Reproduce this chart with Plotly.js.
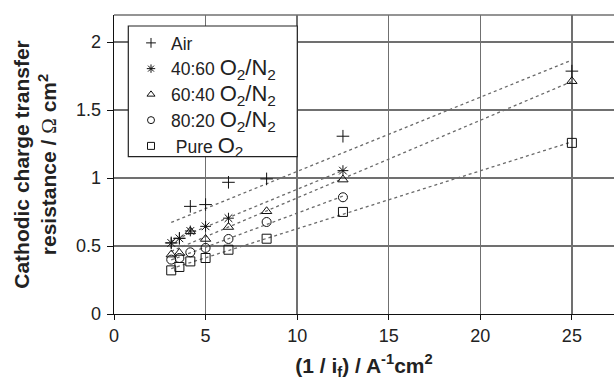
<!DOCTYPE html>
<html>
<head>
<meta charset="utf-8">
<script src="https://cdn.plot.ly/plotly-3.0.1.min.js"></script>
<style>html,body{margin:0;padding:0;background:#fff;}#chart{width:614px;height:380px;}</style>
</head>
<body>
<div id="chart"></div>
<script>
// Data
const xAir = [3.125, 3.571, 4.167, 5, 6.25, 8.333, 12.5, 25];
const yAir = [0.523, 0.557, 0.792, 0.805, 0.969, 0.994, 1.308, 1.787];

const x4060 = [3.125, 3.571, 4.167, 5, 6.25, 12.5];
const y4060 = [0.523, 0.557, 0.611, 0.645, 0.705, 1.055];

const x6040 = [3.125, 3.571, 4.167, 5, 6.25, 8.333, 12.5, 25];
const y6040 = [0.437, 0.449, 0.608, 0.552, 0.640, 0.756, 0.989, 1.713];

const x8020 = [3.125, 3.571, 4.167, 5, 6.25, 8.333, 12.5];
const y8020 = [0.400, 0.412, 0.454, 0.486, 0.552, 0.677, 0.859];

const xO2 = [3.125, 3.571, 4.167, 5, 6.25, 8.333, 12.5, 25];
const yO2 = [0.321, 0.346, 0.387, 0.412, 0.473, 0.554, 0.751, 1.259];

const seriesNames = [
  'Air',
  '40:60 <span style="font-size:22px">O<sub>2</sub>/N<sub>2</sub></span>',
  '60:40 <span style="font-size:22px">O<sub>2</sub>/N<sub>2</sub></span>',
  '80:20 <span style="font-size:22px">O<sub>2</sub>/N<sub>2</sub></span>',
  ' Pure <span style="font-size:22px">O<sub>2</sub></span>'
];
const seriesSymbols = ['cross-thin-open', 'asterisk-open', 'triangle-up-open', 'circle-open', 'square-open'];
const seriesX = [xAir, x4060, x6040, x8020, xO2];
const seriesY = [yAir, y4060, y6040, y8020, yO2];

const xTicks = [0, 5, 10, 15, 20, 25];
const yTicks = [0, 0.5, 1, 1.5, 2];

function linfit(xs, ys) {
  const n = xs.length;
  const mx = xs.reduce((a, b) => a + b, 0) / n;
  const my = ys.reduce((a, b) => a + b, 0) / n;
  let sxy = 0, sxx = 0;
  for (let i = 0; i < n; i++) { sxy += (xs[i] - mx) * (ys[i] - my); sxx += (xs[i] - mx) * (xs[i] - mx); }
  const m = sxy / sxx;
  const b = my - m * mx;
  const x0 = Math.min(...xs), x1 = Math.max(...xs);
  return {x: [x0, x1], y: [m * x0 + b, m * x1 + b]};
}

const traces = [];
// dotted least-squares trend lines
seriesX.forEach((xs, i) => {
  const f = linfit(xs, seriesY[i]);
  traces.push({
    x: f.x, y: f.y, type: 'scatter', mode: 'lines', showlegend: false, hoverinfo: 'skip',
    line: {color: '#6a6a6a', width: 1.3, dash: 'dot'}
  });
});
// data markers
seriesX.forEach((xs, i) => {
  traces.push({
    x: xs, y: seriesY[i], type: 'scatter', mode: 'markers', name: seriesNames[i], showlegend: false,
    marker: {symbol: seriesSymbols[i], size: 9, color: '#111', line: {color: '#111', width: 1}}
  });
});
// legend entries (smaller symbols, as in the reference legend)
seriesNames.forEach((nm, i) => {
  traces.push({
    x: [null], y: [null], type: 'scatter', mode: 'markers', name: nm, showlegend: true,
    marker: {symbol: seriesSymbols[i], size: 7, color: '#111', line: {color: '#111', width: 1}}
  });
});

const FONT = '"Liberation Sans", Arial, Helvetica, sans-serif';
const layout = {
  width: 614, height: 380,
  margin: {l: 114, r: 0, t: 15, b: 66, pad: 0},
  paper_bgcolor: '#fff', plot_bgcolor: '#fff',
  font: {family: FONT, size: 18, color: '#222'},
  showlegend: true,
  legend: {
    x: (131 - 114) / 500, y: (314 - 25) / 299, xanchor: 'left', yanchor: 'top',
    bgcolor: 'rgba(0,0,0,0)', borderwidth: 0,
    font: {family: FONT, size: 17.5, color: '#222'},
    tracegroupgap: 0
  },
  xaxis: {
    range: [0, 27.3], tickvals: xTicks, ticktext: xTicks.map(String),
    showgrid: true, gridcolor: '#707070', gridwidth: 1.4,
    showline: true, linecolor: '#111', linewidth: 1.3,
    ticks: 'outside', ticklen: 5, tickcolor: '#111', zeroline: false,
    tickfont: {size: 18, color: '#222'},
    title: {text: '<b>(1 / i<sub>f</sub>) / A<sup>-1</sup>cm<sup>2</sup></b>', font: {size: 21, color: '#222'}, standoff: 16}
  },
  yaxis: {
    range: [0, 2.2], tickvals: yTicks, ticktext: yTicks.map(String),
    showgrid: true, gridcolor: '#707070', gridwidth: 1.4,
    showline: true, linecolor: '#111', linewidth: 1.3,
    ticks: 'outside', ticklen: 6, tickcolor: '#111', zeroline: false,
    ticklabelstandoff: 2,
    tickfont: {size: 18, color: '#222'},
    title: {text: '<b>Cathodic charge transfer<br>resistance / </b><span style="font-family:\'Liberation Serif\', serif">Ω</span><b> cm<sup>2</sup></b>', font: {size: 21, color: '#222'}, standoff: 13}
  },
  shapes: [
    {type: 'line', xref: 'paper', yref: 'paper', x0: 0, x1: 1, y0: 1, y1: 1, line: {color: '#707070', width: 1.4}},
    {type: 'rect', xref: 'paper', yref: 'paper', layer: 'above',
     x0: (128.3 - 114) / 500, x1: (297.3 - 114) / 500, y0: (314 - 156.7) / 299, y1: (314 - 26) / 299,
     fillcolor: '#fff', line: {color: '#222', width: 1.2}}
  ]
};

Plotly.newPlot('chart', traces, layout, {displayModeBar: false, staticPlot: true});
</script>
</body>
</html>
